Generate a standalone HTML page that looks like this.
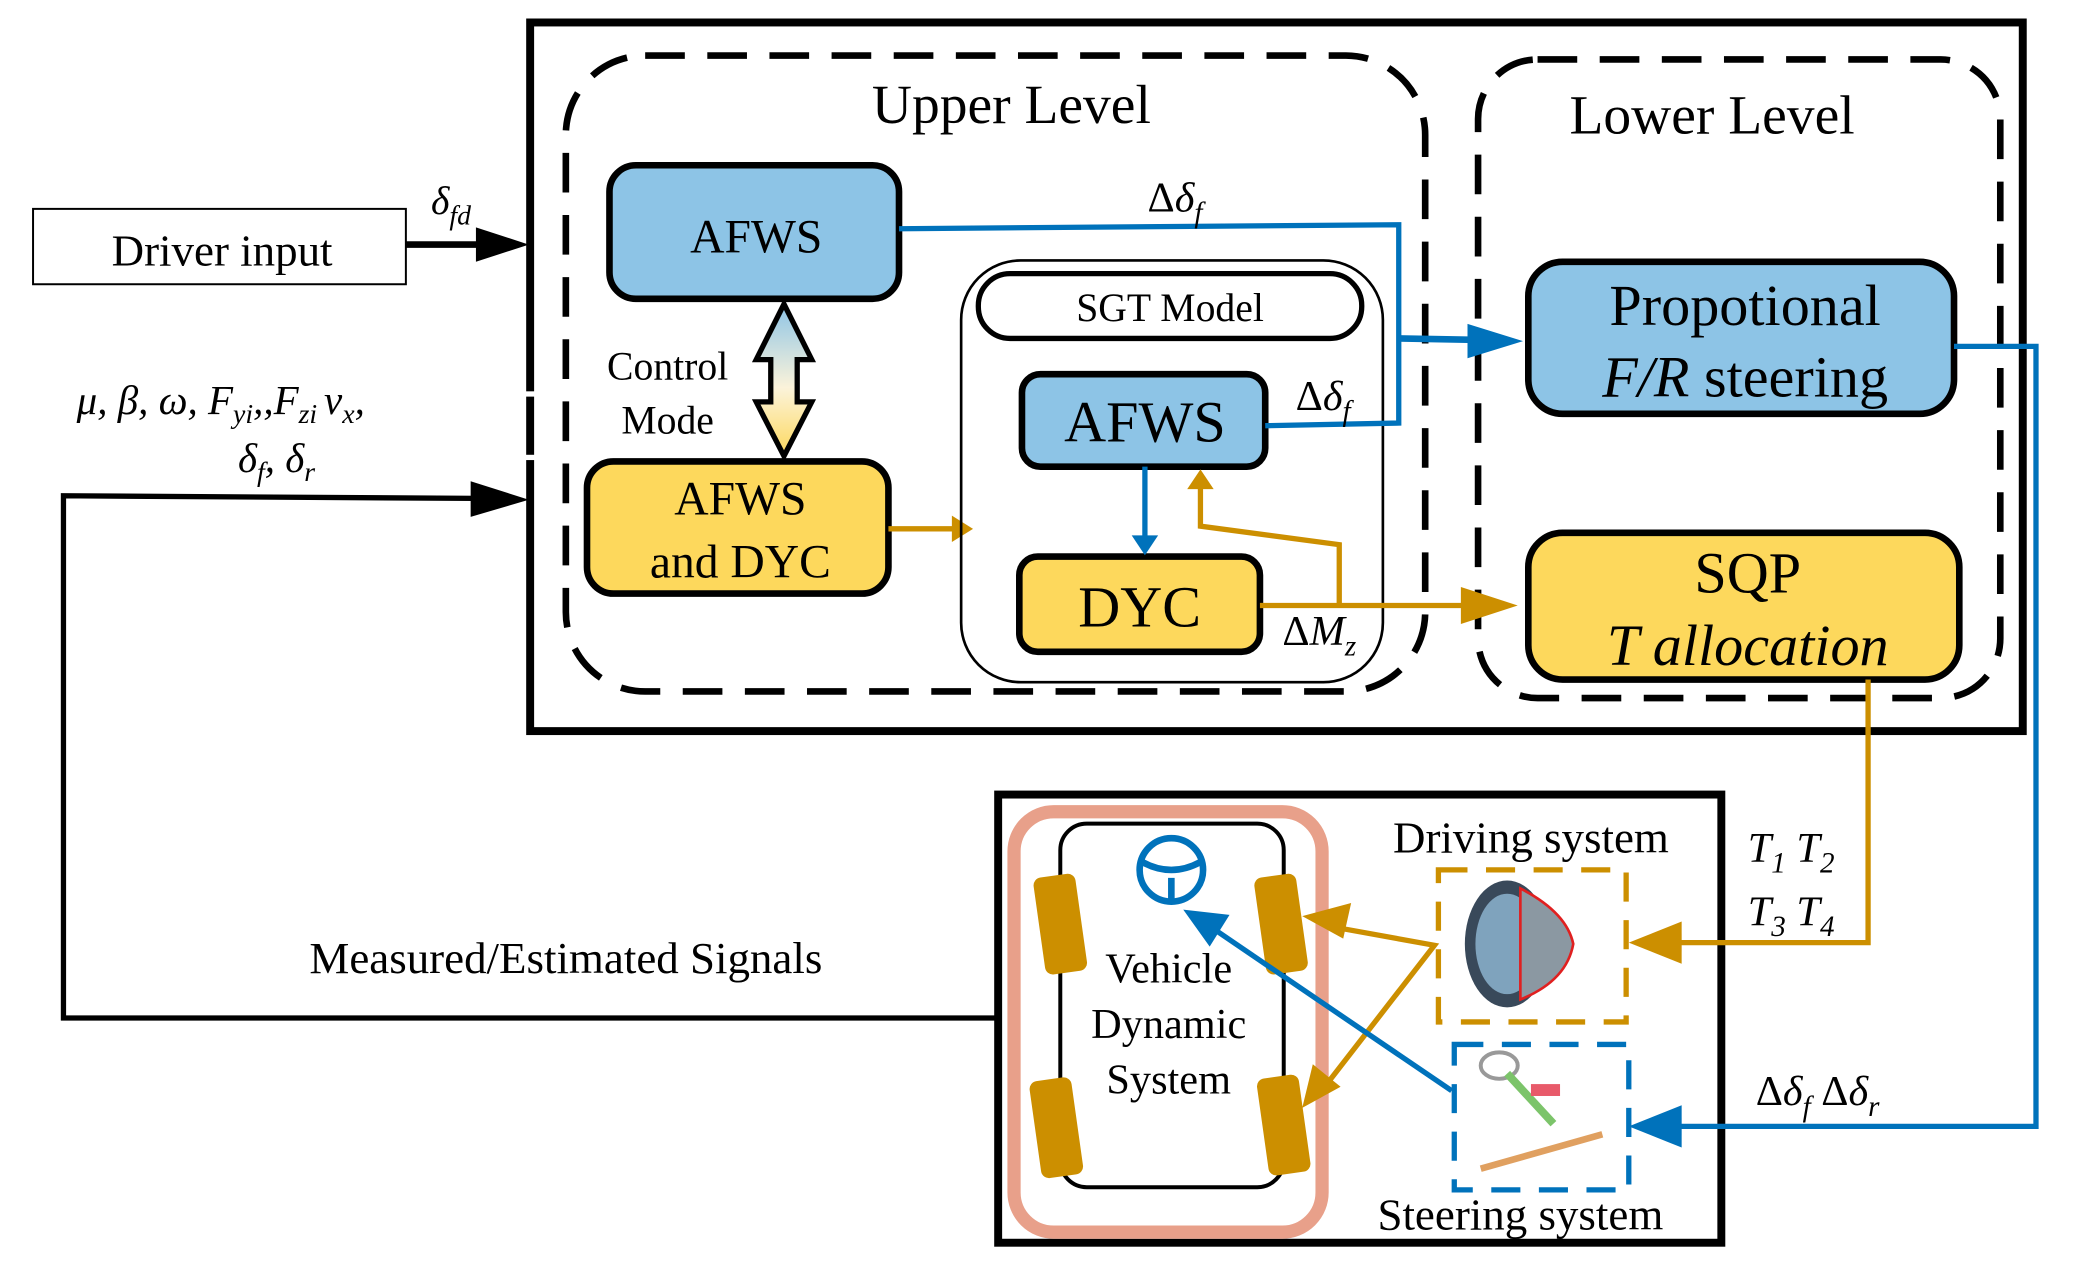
<!DOCTYPE html>
<html><head><meta charset="utf-8"><style>
html,body{margin:0;padding:0;background:#fff;}
svg{display:block;font-family:"Liberation Serif","DejaVu Serif",serif;}
svg text{font-family:"Liberation Serif","DejaVu Serif",serif;fill:#000;}
.i{font-style:italic;}
</style></head><body>
<svg width="2073" height="1266" viewBox="0 0 1568 957.6" preserveAspectRatio="none" xmlns="http://www.w3.org/2000/svg" font-family="Liberation Serif, serif">
<defs>
<linearGradient id="g" x1="0" y1="0" x2="0" y2="1">
<stop offset="0" stop-color="#8DC4E6"/><stop offset="0.55" stop-color="#FBF3DA"/><stop offset="1" stop-color="#FDD85C"/>
</linearGradient>
</defs>
<!-- outer box -->
<rect x="401" y="17" width="1129" height="536" fill="none" stroke="#000" stroke-width="6"/>
<line x1="401" y1="296" x2="401" y2="300" stroke="#fff" stroke-width="8"/>
<line x1="401" y1="344" x2="401" y2="348" stroke="#fff" stroke-width="8"/>
<!-- dashed levels -->
<rect x="428" y="42" width="650" height="481" rx="60" fill="none" stroke="#000" stroke-width="5" stroke-dasharray="30,17"/>
<rect x="1118" y="45" width="395" height="483" rx="45" fill="none" stroke="#000" stroke-width="5" stroke-dasharray="30,17"/>
<text x="765" y="93" font-size="42" text-anchor="middle">Upper Level</text>
<text x="1295" y="101" font-size="42" text-anchor="middle">Lower Level</text>
<!-- driver input -->
<rect x="25" y="158" width="282" height="57" fill="#fff" stroke="#000" stroke-width="1.5"/>
<text x="168" y="201" font-size="34" text-anchor="middle">Driver input</text>
<line x1="307" y1="185" x2="365" y2="185" stroke="#000" stroke-width="5"/>
<polygon points="360,172 400,185 360,198" fill="#000"/>
<text x="326" y="162" font-size="30" class="i">δ<tspan font-size="21" dy="8">fd</tspan></text>
<!-- feedback -->
<polyline points="755,770 48,770 48,375 360,377" fill="none" stroke="#000" stroke-width="4"/>
<polygon points="356,364 400,378 356,391" fill="#000"/>
<text x="58" y="313" font-size="31" class="i">μ,  β, ω, F<tspan font-size="21" dy="7">yi</tspan><tspan dy="-7">,,F</tspan><tspan font-size="21" dy="7">zi </tspan><tspan dy="-7">v</tspan><tspan font-size="21" dy="7">x</tspan><tspan dy="-7">,</tspan></text>
<text x="180" y="357" font-size="31" class="i">δ<tspan font-size="21" dy="7">f</tspan><tspan dy="-7">, δ</tspan><tspan font-size="21" dy="7">r</tspan></text>
<text x="428" y="736" font-size="34" text-anchor="middle">Measured/Estimated Signals</text>
<!-- AFWS top -->
<rect x="461" y="125" width="219" height="101" rx="20" fill="#8DC4E6" stroke="#000" stroke-width="5"/>
<text x="572" y="191" font-size="36" text-anchor="middle">AFWS</text>
<!-- double arrow -->
<polygon points="593,230 614,272 603,272 603,304 614,304 593,345 572,304 583,304 583,272 572,272" fill="url(#g)" stroke="#000" stroke-width="4"/>
<text x="505" y="287" font-size="30" text-anchor="middle">Control</text>
<text x="505" y="328" font-size="30" text-anchor="middle">Mode</text>
<!-- AFWS and DYC -->
<rect x="444" y="349" width="228" height="100" rx="20" fill="#FDD85C" stroke="#000" stroke-width="5"/>
<text x="560" y="389" font-size="36" text-anchor="middle">AFWS</text>
<text x="560" y="437" font-size="36" text-anchor="middle">and DYC</text>
<line x1="672" y1="400" x2="722" y2="400" stroke="#CC8F00" stroke-width="4"/>
<polygon points="720,390 736,400 720,410" fill="#CC8F00"/>
<!-- SGT -->
<rect x="727" y="197" width="319" height="319" rx="45" fill="none" stroke="#000" stroke-width="2"/>
<rect x="740" y="207" width="290" height="49" rx="24" fill="#fff" stroke="#000" stroke-width="4"/>
<text x="885" y="243" font-size="30" text-anchor="middle">SGT Model</text>
<rect x="773" y="283" width="184" height="70" rx="14" fill="#8DC4E6" stroke="#000" stroke-width="5"/>
<text x="866" y="334" font-size="44" text-anchor="middle">AFWS</text>
<rect x="771" y="421" width="182" height="72" rx="14" fill="#FDD85C" stroke="#000" stroke-width="5"/>
<text x="862" y="474" font-size="44" text-anchor="middle">DYC</text>
<!-- blue inner arrow -->
<line x1="866" y1="353" x2="866" y2="408" stroke="#0072BB" stroke-width="4"/>
<polygon points="856,405 866,420 876,405" fill="#0072BB"/>
<!-- orange feedback -->
<polyline points="1013,458 1013,412 908,398 908,368" fill="none" stroke="#CC8F00" stroke-width="4"/>
<polygon points="898,370 908,355 918,370" fill="#CC8F00"/>
<line x1="953" y1="458" x2="1110" y2="458" stroke="#CC8F00" stroke-width="4"/>
<polygon points="1105,444 1148,458 1105,472" fill="#CC8F00"/>
<text x="970" y="488" font-size="32">Δ<tspan class="i">M</tspan><tspan font-size="22" dy="8" class="i">z</tspan></text>
<!-- blue top lines -->
<polyline points="680,173 1058,170 1058,320 957,322" fill="none" stroke="#0072BB" stroke-width="4"/>
<line x1="1058" y1="256" x2="1115" y2="257" stroke="#0072BB" stroke-width="5"/>
<polygon points="1110,245 1152,258 1110,271" fill="#0072BB"/>
<text x="868" y="160" font-size="32">Δ<tspan class="i">δ</tspan><tspan font-size="22" dy="8" class="i">f</tspan></text>
<text x="980" y="310" font-size="32">Δ<tspan class="i">δ</tspan><tspan font-size="22" dy="8" class="i">f</tspan></text>
<!-- Propotional -->
<rect x="1156" y="198" width="322" height="115" rx="26" fill="#8DC4E6" stroke="#000" stroke-width="5"/>
<text x="1320" y="246" font-size="44" text-anchor="middle">Propotional</text>
<text x="1320" y="300" font-size="44" text-anchor="middle"><tspan class="i">F/R</tspan> steering</text>
<!-- SQP -->
<rect x="1156" y="403" width="326" height="111" rx="26" fill="#FDD85C" stroke="#000" stroke-width="5"/>
<text x="1322" y="448" font-size="44" text-anchor="middle">SQP</text>
<text x="1322" y="503" font-size="44" text-anchor="middle" class="i">T allocation</text>
<!-- bottom box -->
<rect x="755" y="601" width="547" height="339" fill="#fff" stroke="#000" stroke-width="6"/>
<!-- right connectors -->
<polyline points="1478,262 1540,262 1540,852 1268,852" fill="none" stroke="#0072BB" stroke-width="4"/>
<polygon points="1272,836 1232,852 1272,868" fill="#0072BB"/>
<polyline points="1413,514 1413,713 1268,713" fill="none" stroke="#CC8F00" stroke-width="4"/>
<polygon points="1272,697 1232,713 1272,729" fill="#CC8F00"/>
<text x="1322" y="652" font-size="32" class="i">T<tspan font-size="22" dy="8">1</tspan><tspan dy="-8"> T</tspan><tspan font-size="22" dy="8">2</tspan></text>
<text x="1322" y="700" font-size="32" class="i">T<tspan font-size="22" dy="8">3</tspan><tspan dy="-8"> T</tspan><tspan font-size="22" dy="8">4</tspan></text>
<text x="1328" y="836" font-size="32">Δ<tspan class="i">δ</tspan><tspan font-size="22" dy="8" class="i">f</tspan><tspan dy="-8">  Δ</tspan><tspan class="i">δ</tspan><tspan font-size="22" dy="8" class="i">r</tspan></text>
<rect x="767" y="614" width="233" height="318" rx="30" fill="none" stroke="#E8A08A" stroke-width="10"/>
<rect x="802" y="623" width="169" height="275" rx="20" fill="none" stroke="#000" stroke-width="3"/>
<g fill="#CC8F00">
<rect x="786" y="662" width="32" height="74" rx="6" transform="rotate(-8 802 699)"/>
<rect x="783" y="816" width="32" height="74" rx="6" transform="rotate(-8 799 853)"/>
<rect x="953" y="662" width="32" height="74" rx="6" transform="rotate(-8 969 699)"/>
<rect x="955" y="814" width="32" height="74" rx="6" transform="rotate(-8 971 851)"/>
</g>
<g stroke="#0072BB" stroke-width="5" fill="none">
<circle cx="886" cy="658" r="24"/>
<path d="M864,652 Q886,664 908,652 M886,664 L886,682"/>
</g>
<text x="884" y="743" font-size="32" text-anchor="middle">Vehicle</text>
<text x="884" y="785" font-size="32" text-anchor="middle">Dynamic</text>
<text x="884" y="827" font-size="32" text-anchor="middle">System</text>
<text x="1158" y="645" font-size="34" text-anchor="middle">Driving system</text>
<text x="1150" y="930" font-size="34" text-anchor="middle">Steering system</text>
<rect x="1088" y="658" width="142" height="115" fill="none" stroke="#CC8F00" stroke-width="4" stroke-dasharray="22,14"/>
<rect x="1100" y="790" width="132" height="110" fill="none" stroke="#0072BB" stroke-width="4" stroke-dasharray="22,14"/>
<!-- wheel hub image approx -->
<ellipse cx="1140" cy="714" rx="32" ry="48" fill="#39495a"/>
<ellipse cx="1140" cy="714" rx="24" ry="38" fill="#7fa3bd"/>
<path d="M1150,672 Q1185,690 1190,714 Q1185,742 1150,756 Z" fill="#8b98a2" stroke="#e02020" stroke-width="2"/>
<!-- steering image approx -->
<ellipse cx="1134" cy="806" rx="14" ry="10" fill="none" stroke="#999" stroke-width="3"/>
<line x1="1140" y1="812" x2="1175" y2="850" stroke="#7cc46a" stroke-width="6"/>
<rect x="1158" y="820" width="22" height="9" fill="#e85a6a"/>
<line x1="1120" y1="884" x2="1212" y2="858" stroke="#e0a060" stroke-width="5"/>
<!-- orange arrows to wheels -->
<polyline points="1002,700 1085,715 1002,822" fill="none" stroke="#CC8F00" stroke-width="4"/>
<polygon points="985,693 1022,683 1016,710" fill="#CC8F00"/>
<polygon points="985,838 993,805 1014,822" fill="#CC8F00"/>
<line x1="1098" y1="825" x2="920" y2="704" stroke="#0072BB" stroke-width="4"/>
<polygon points="895,688 930,692 915,716" fill="#0072BB"/>
</svg>
</body></html>
